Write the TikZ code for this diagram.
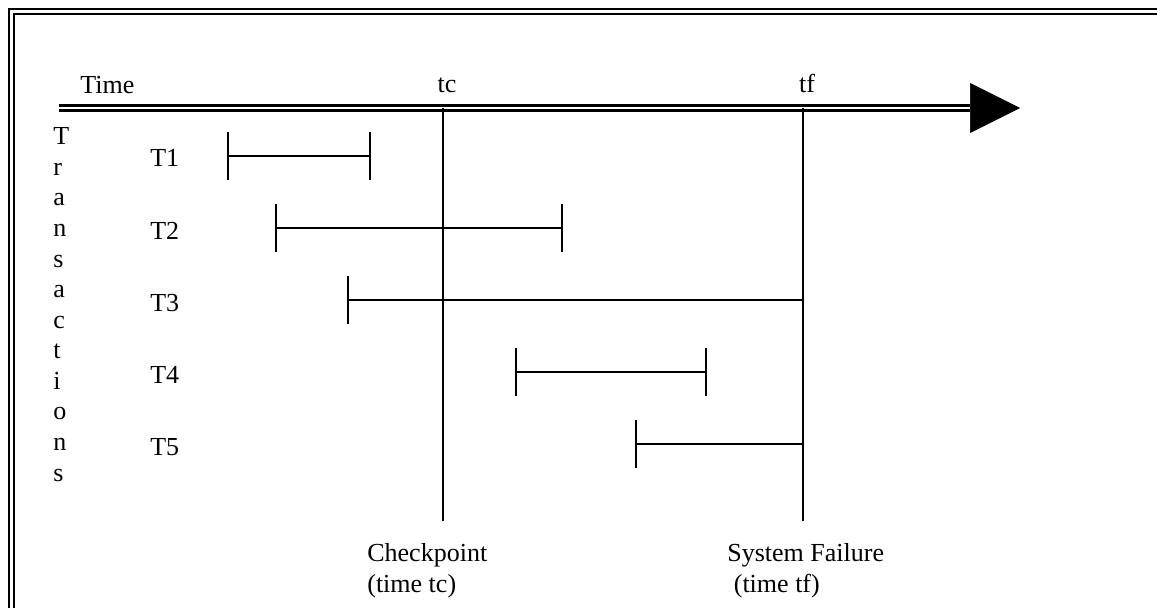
\documentclass[tikz,border=0pt]{standalone}
\usepackage{fontspec}
\setmainfont{Liberation Serif}
\usetikzlibrary{arrows.meta}
\begin{document}
\begin{tikzpicture}[x=0.02cm, y=-0.02cm,
  lbl/.style={inner sep=0pt, font=\fontsize{14.8}{17.2}\selectfont},
  span/.style={line width=1.1pt, {Bar[width=0.98cm, line width=1.1pt]}-{Bar[width=0.98cm, line width=1.1pt]}},
  openspan/.style={line width=1.1pt, {Bar[width=0.98cm, line width=1.1pt]}-},
  marker/.style={line width=1.1pt}]
\useasboundingbox (0,0) rectangle (1157,608);
\clip (0,0) rectangle (1157,608);
% frame
\draw[line width=1.4pt, double, double distance=1.7pt] (11.5,11.5) rectangle (1185,640);
% time axis
\coordinate (axisstart) at (59,108);
\coordinate (axisend) at (970,108);
\coordinate (axistip) at (1020,108);
\draw[line width=1.6pt, double, double distance=0.9pt] (axisstart) -- (axisend);
\draw[line width=0.4pt, -{Triangle[length=1cm, width=1cm]}] (axisend) -- (axistip);
\node[lbl, anchor=base west] (time) at (80,94) {Time};
\node[lbl, anchor=base] (tc) at (447,93) {tc};
\node[lbl, anchor=base] (tf) at (807,93) {tf};
% checkpoint and failure
\coordinate (tctop) at (443,108);
\coordinate (tcbot) at (443,521);
\coordinate (tftop) at (803,108);
\coordinate (tfbot) at (803,521);
\draw[marker] (tctop) -- (tcbot);
\draw[marker] (tftop) -- (tfbot);
\node[lbl, anchor=base west, align=left] (check) at (367,592) {Checkpoint\\(time tc)};
\node[lbl, anchor=base west, align=left] (fail) at (727,592) {System Failure\\\hspace*{0.25em}(time tf)};
% transactions
\node[lbl, anchor=base west, align=left, font=\fontsize{14.8}{17.4}\selectfont] (trans) at (53,481)
  {T\\r\\a\\n\\s\\a\\c\\t\\i\\o\\n\\s};
\node[lbl, anchor=base west] (n1) at (150,167) {T1};
\node[lbl, anchor=base west] (n2) at (150,239) {T2};
\node[lbl, anchor=base west] (n3) at (150,311) {T3};
\node[lbl, anchor=base west] (n4) at (150,383) {T4};
\node[lbl, anchor=base west] (n5) at (150,455) {T5};
\coordinate (s1) at (227,156);
\coordinate (e1) at (371,156);
\coordinate (s2) at (275,228);
\coordinate (e2) at (563,228);
\coordinate (s3) at (347,300);
\coordinate (e3) at (tftop |- s3);
\coordinate (s4) at (515,372);
\coordinate (e4) at (707,372);
\coordinate (s5) at (635,444);
\coordinate (e5) at (tftop |- s5);
\draw[span] (s1) -- (e1);
\draw[span] (s2) -- (e2);
\draw[openspan] (s3) -- (e3);
\draw[span] (s4) -- (e4);
\draw[openspan] (s5) -- (e5);
\end{tikzpicture}
\end{document}
